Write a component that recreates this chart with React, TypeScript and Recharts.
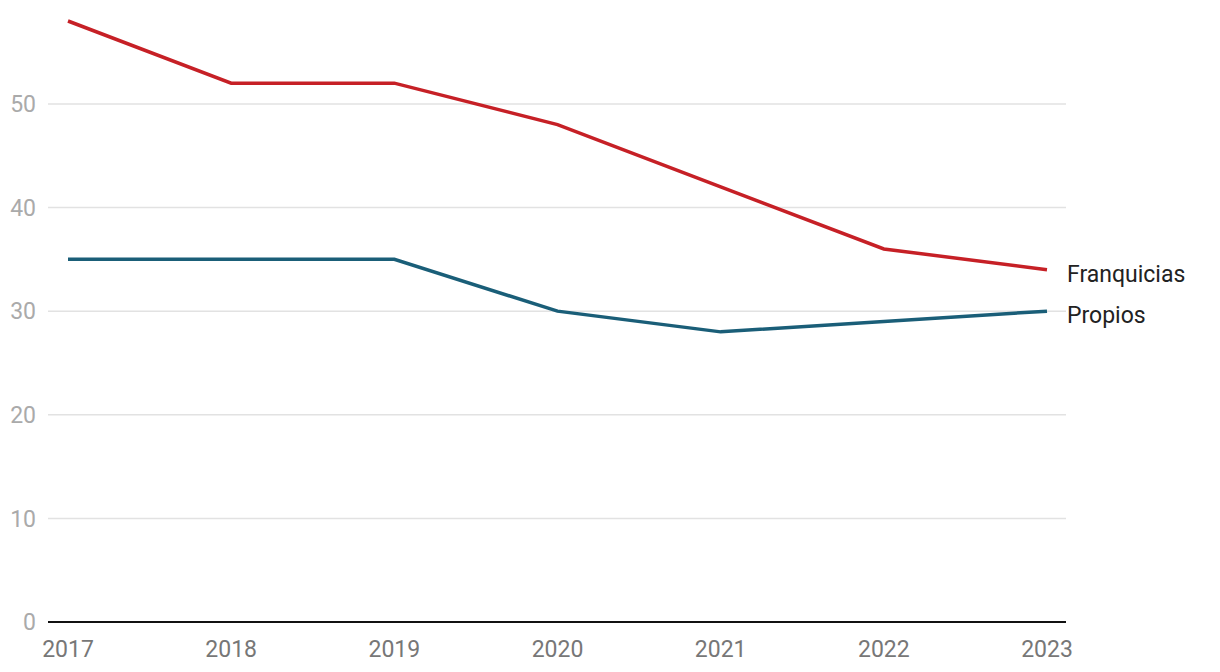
import React from "react";
import { LineChart, Line, XAxis, YAxis, ReferenceLine } from "recharts";

const years = ["2017", "2018", "2019", "2020", "2021", "2022", "2023"];
const franquicias = [58, 52, 52, 48, 42, 36, 34];
const propios = [35, 35, 35, 30, 28, 29, 30];
const yTicks = [0, 10, 20, 30, 40, 50];

const data = years.map((year, i) => ({
  year,
  Franquicias: franquicias[i],
  Propios: propios[i],
}));

const endLabel = (name: string) => (props: any) => {
  const { x, y, index } = props;
  if (index !== years.length - 1) return null;
  return (
    <text
      x={x + 20}
      y={y + 6}
      fill="#222"
      fontSize={23}
      fontFamily="Roboto"
      dominantBaseline="middle"
    >
      {name}
    </text>
  );
};

const App: React.FC = () => {
  return (
    <div style={{ position: "absolute", left: 0, top: 0 }}>
      <LineChart
        width={1220}
        height={672}
        data={data}
        margin={{ top: 21, right: 154, bottom: 0, left: 0 }}
        style={{ fontFamily: "Roboto" }}
      >
        <XAxis
          dataKey="year"
          height={50}
          padding={{ left: 20, right: 19 }}
          tickLine={false}
          tickSize={0}
          tickMargin={19}
          axisLine={{ stroke: "#111", strokeWidth: 2 }}
          tick={{ fill: "#777", fontSize: 23 }}
          interval={0}
        />
        <YAxis
          width={48}
          domain={[0, 58]}
          ticks={yTicks}
          tickLine={false}
          tickSize={0}
          tickMargin={12}
          axisLine={false}
          tick={{ fill: "#aaa", fontSize: 23 }}
        />
        {/* grid lines only at the ticks above zero */}
        {yTicks.slice(1).map((t) => (
          <ReferenceLine key={t} y={t} stroke="#e2e2e2" strokeWidth={1.5} />
        ))}
        <Line
          dataKey="Franquicias"
          stroke="#c62026"
          strokeWidth={3.5}
          dot={false}
          isAnimationActive={false}
          label={endLabel("Franquicias")}
        />
        <Line
          dataKey="Propios"
          stroke="#1a5e78"
          strokeWidth={3.5}
          dot={false}
          isAnimationActive={false}
          label={endLabel("Propios")}
        />
      </LineChart>
    </div>
  );
};

export default App;
